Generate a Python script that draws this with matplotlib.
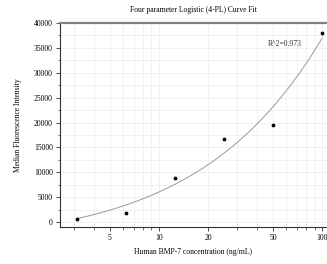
import numpy as np
import matplotlib
matplotlib.use("Agg")
import matplotlib.pyplot as plt
from matplotlib.ticker import FixedLocator, NullFormatter, MultipleLocator

# data
conc = [3.125, 6.25, 12.5, 25, 50, 100]
mfi = [600, 1900, 8800, 16700, 19500, 38000]
xtick_labels = [5, 10, 20, 50, 100]
r2_text = "R^2=0.973"

plt.rcParams['font.family'] = ['Liberation Serif', 'DejaVu Serif']

# 4PL fit: grid over b, c ; a, d by linear least squares
x = np.array(conc, float)
y = np.array(mfi, float)
bs = np.linspace(0.3, 4.0, 300)
cs = np.logspace(0, 4, 300)
B, C = np.meshgrid(bs, cs, indexing='ij')
t = (x[None, None, :] / C[..., None]) ** B[..., None]
u = 1 / (1 + t)
v = t / (1 + t)
suu = (u * u).sum(-1); svv = (v * v).sum(-1); suv = (u * v).sum(-1)
suy = (u * y).sum(-1); svy = (v * y).sum(-1)
det = suu * svv - suv ** 2
a = (svv * suy - suv * svy) / det
d = (suu * svy - suv * suy) / det
res = ((a[..., None] * u + d[..., None] * v - y) ** 2).sum(-1)
i, j = np.unravel_index(np.nanargmin(res), res.shape)
bb, cc, aa, dd = bs[i], cs[j], a[i, j], d[i, j]

xf = np.logspace(np.log10(3.125), np.log10(100), 200)
yf = dd + (aa - dd) / (1 + (xf / cc) ** bb)

fig = plt.figure(figsize=(3.27, 2.64), dpi=100)
ax = fig.add_axes([0.183, 0.140, 0.8165, 0.773])

ax.plot(xf, yf, color='#9a9a9a', lw=0.7, zorder=2)
ax.scatter(conc, mfi, s=3, color='black', zorder=3)

ax.set_xscale('log')
ax.set_xlim(2.47, 107)
ax.set_ylim(-1000, 40000)

minor_x = [3, 4, 6, 7, 8, 9, 30, 40, 60, 70, 80, 90]
ax.xaxis.set_major_locator(FixedLocator(xtick_labels))
ax.set_xticklabels([str(v) for v in xtick_labels])
ax.xaxis.set_minor_locator(FixedLocator(minor_x))
ax.xaxis.set_minor_formatter(NullFormatter())
ax.yaxis.set_major_locator(MultipleLocator(5000))
ax.yaxis.set_minor_locator(MultipleLocator(2500))

ax.grid(which='both', color='#ececec', lw=0.5, zorder=0)
ax.set_axisbelow(True)

ax.tick_params(which='major', direction='out', length=3, width=0.6,
               color='#333333', labelsize=5.5, pad=2)
ax.tick_params(which='minor', direction='out', length=1.8, width=0.5,
               color='#333333')

for s in ['left', 'bottom']:
    ax.spines[s].set_color('#333333')
    ax.spines[s].set_linewidth(0.8)
ax.spines['top'].set_color('#808080')
ax.spines['top'].set_linewidth(1.6)
ax.spines['right'].set_visible(False)

ax.set_title('Four parameter Logistic (4-PL) Curve Fit', fontsize=5.5, pad=8)
ax.set_xlabel('Human BMP-7 concentration (ng/mL)', fontsize=5.5, labelpad=4)
ax.set_ylabel('Median Fluorescence Intensity', fontsize=5.5, labelpad=9)

ax.text(0.78, 0.885, r2_text, transform=ax.transAxes, fontsize=5.5, color='#333333')

fig.savefig('out.png', dpi=100)
